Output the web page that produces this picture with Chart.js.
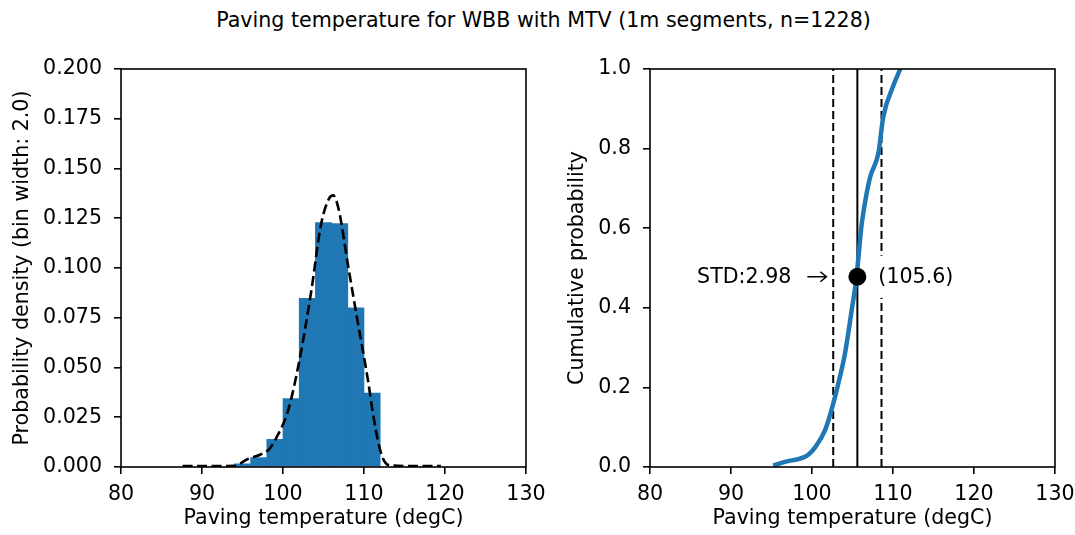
<!DOCTYPE html>
<html>
<head>
<meta charset="utf-8">
<script src="https://cdn.jsdelivr.net/npm/chart.js@4.4.1/dist/chart.umd.min.js"></script>
<style>
  html, body { margin: 0; padding: 0; background: #fff; }
  #fig { position: relative; width: 1075px; height: 535px; font-family: "DejaVu Sans", sans-serif; }
  #suptitle { position: absolute; left: 0; top: 8px; width: 1087px; text-align: center; font-size: 20.6px; line-height: 24px; color: #000; }
  canvas { position: absolute; top: 0; }
  #hist { left: 0; }
  #cdf { left: 560px; }
</style>
</head>
<body>
<div id="fig">
  <div id="suptitle">Paving temperature for WBB with MTV (1m segments, n=1228)</div>
  <canvas id="hist" width="560" height="535"></canvas>
  <canvas id="cdf" width="515" height="535"></canvas>
</div>
<script>
// histogram, bin width 2 degC (left edges + density)
const binWidth = 2.0;
const binLeft = [94, 96, 98, 100, 102, 104, 106, 108, 110];
const binDensity = [0.0016, 0.0047, 0.0139, 0.0344, 0.0848, 0.1228, 0.1223, 0.0800, 0.0371];

// kernel density estimate
const kdeTemp = [87.6, 90, 92, 94, 95.6, 97.3, 98.3, 99.3, 100.6, 102, 103.5, 104.7, 105.7, 106.2, 106.9, 108, 109.2, 110.5, 111.1, 111.9, 112.5, 113.3, 116, 119.5];
const kdeDensity = [0.0005, 0.0005, 0.0005, 0.0006, 0.0039, 0.0064, 0.009, 0.0156, 0.028, 0.053, 0.0887, 0.122, 0.135, 0.1365, 0.129, 0.102, 0.0735, 0.0433, 0.027, 0.01, 0.003, 0.0008, 0.0005, 0.0005];

// cumulative distribution
const cdfTemp = [95.2, 96.9, 98.5, 99.5, 100.4, 101.6, 102.4, 103.25, 104.07, 104.9, 105.5, 105.7, 106.1, 106.6, 107.2, 108.2, 108.8, 110.0, 110.9];
const cdfProb = [0.004, 0.014, 0.021, 0.03, 0.05, 0.092, 0.143, 0.21, 0.285, 0.394, 0.478, 0.52, 0.604, 0.671, 0.73, 0.789, 0.88, 0.956, 1.0];

const meanTemp = 105.6;
const stdTemp = 2.98;
const meanProb = 0.478;

// ticks
const tempTicks = [80, 90, 100, 110, 120, 130];
const densityTicks = [0, 0.025, 0.05, 0.075, 0.1, 0.125, 0.15, 0.175, 0.2];
const probTicks = [0, 0.2, 0.4, 0.6, 0.8, 1.0];

const FONT = { family: "'DejaVu Sans', sans-serif", size: 20.6 };
const BLUE = '#1f77b4';

function tickGrid() {
  return { display: true, offset: false, drawOnChartArea: false, drawTicks: true, tickLength: 7, color: '#000', lineWidth: 1.6 };
}

function tempAxis() {
  return {
    type: 'linear', min: 80, max: 130, offset: false,
    afterFit: s => { s.height = 68; s.paddingLeft = 0; s.paddingRight = 0; },
    afterBuildTicks: s => { s.ticks = tempTicks.map(v => ({ value: v })); },
    grid: tickGrid(),
    border: { display: false },
    ticks: { font: FONT, color: '#000', padding: 8, maxRotation: 0, autoSkip: false },
    title: { display: true, text: 'Paving temperature (degC)', font: FONT, color: '#000', padding: { top: 0, bottom: 4 } }
  };
}

function valueAxis(max, ticks, digits, title, width, titlePad) {
  return {
    type: 'linear', min: 0, max: max,
    afterFit: s => { s.width = width; s.paddingTop = 0; s.paddingBottom = 0; },
    afterBuildTicks: s => { s.ticks = ticks.map(v => ({ value: v })); },
    grid: tickGrid(),
    border: { display: false },
    ticks: { font: FONT, color: '#000', padding: 12, autoSkip: false, callback: v => v.toFixed(digits) },
    title: { display: true, text: title, font: FONT, color: '#000', padding: { top: titlePad, bottom: 0 } }
  };
}

// box around the plotting area
const spines = {
  id: 'spines',
  afterDatasetsDraw(chart) {
    const a = chart.chartArea, ctx = chart.ctx;
    ctx.save();
    ctx.strokeStyle = '#000';
    ctx.lineWidth = 1.6;
    ctx.strokeRect(a.left, a.top, a.right - a.left, a.bottom - a.top);
    ctx.restore();
  }
};

const baseOptions = {
  responsive: false,
  animation: false,
  devicePixelRatio: 1,
  plugins: { legend: { display: false }, tooltip: { enabled: false } }
};

new Chart(document.getElementById('hist').getContext('2d'), {
  type: 'bar',
  data: {
    datasets: [
      {
        type: 'line',
        data: kdeTemp.map((t, i) => ({ x: t, y: kdeDensity[i] })),
        borderColor: '#000',
        borderWidth: 2.6,
        borderDash: [10, 4.5],
        pointRadius: 0,
        cubicInterpolationMode: 'monotone',
        fill: false
      },
      {
        type: 'bar',
        data: binLeft.map((t, i) => ({ x: t + binWidth / 2, y: binDensity[i] })),
        backgroundColor: BLUE,
        borderWidth: 0,
        barPercentage: 1.0,
        categoryPercentage: 1.0
      }
    ]
  },
  options: Object.assign({}, baseOptions, {
    layout: { padding: { top: 69, right: 34, left: 0, bottom: 0 } },
    scales: {
      x: tempAxis(),
      y: valueAxis(0.2, densityTicks, 3, 'Probability density (bin width: 2.0)', 121, 10)
    }
  }),
  plugins: [spines]
});

// mean / std annotations on the CDF panel
const cdfNotes = {
  id: 'cdfNotes',
  afterDatasetsDraw(chart) {
    const ctx = chart.ctx;
    const px = chart.scales.x.getPixelForValue(meanTemp);
    const py = chart.scales.y.getPixelForValue(meanProb);
    ctx.save();
    ctx.font = "20.6px 'DejaVu Sans', sans-serif";
    ctx.textBaseline = 'middle';

    const label = '(' + meanTemp.toFixed(1) + ')';
    const lx = px + 21;
    const w = ctx.measureText(label).width;
    ctx.fillStyle = '#fff';
    ctx.fillRect(lx - 6, py - 21, w + 12, 42);
    ctx.fillStyle = '#000';
    ctx.textAlign = 'left';
    ctx.fillText(label, lx, py + 1);

    ctx.textAlign = 'right';
    ctx.fillText('STD:' + stdTemp.toFixed(2), px - 66, py + 1);

    // arrow pointing at the lower std line
    const x0 = px - 50, x1 = px - 31;
    ctx.strokeStyle = '#000';
    ctx.lineWidth = 1.6;
    ctx.beginPath();
    ctx.moveTo(x0, py);
    ctx.lineTo(x1, py);
    ctx.moveTo(x1 - 6, py - 5);
    ctx.lineTo(x1, py);
    ctx.lineTo(x1 - 6, py + 5);
    ctx.stroke();
    ctx.restore();
  }
};

function vline(t, dash) {
  return {
    type: 'line',
    data: [{ x: t, y: 0 }, { x: t, y: 1 }],
    borderColor: '#000',
    borderWidth: 2,
    borderDash: dash,
    pointRadius: 0,
    fill: false
  };
}

new Chart(document.getElementById('cdf').getContext('2d'), {
  type: 'line',
  data: {
    datasets: [
      {
        data: [{ x: meanTemp, y: meanProb }],
        showLine: false,
        pointRadius: 9,
        pointBackgroundColor: '#000',
        pointBorderWidth: 0
      },
      {
        data: cdfTemp.map((t, i) => ({ x: t, y: cdfProb[i] })),
        borderColor: BLUE,
        borderWidth: 4.5,
        pointRadius: 0,
        cubicInterpolationMode: 'monotone',
        fill: false
      },
      vline(meanTemp, []),
      vline(meanTemp - stdTemp, [8, 4]),
      vline(meanTemp + stdTemp, [8, 4])
    ]
  },
  options: Object.assign({}, baseOptions, {
    layout: { padding: { top: 69, right: 20, left: 0, bottom: 0 } },
    scales: {
      x: tempAxis(),
      y: valueAxis(1.0, probTicks, 1, 'Cumulative probability', 90, 5)
    }
  }),
  plugins: [cdfNotes, spines]
});
</script>
</body>
</html>
